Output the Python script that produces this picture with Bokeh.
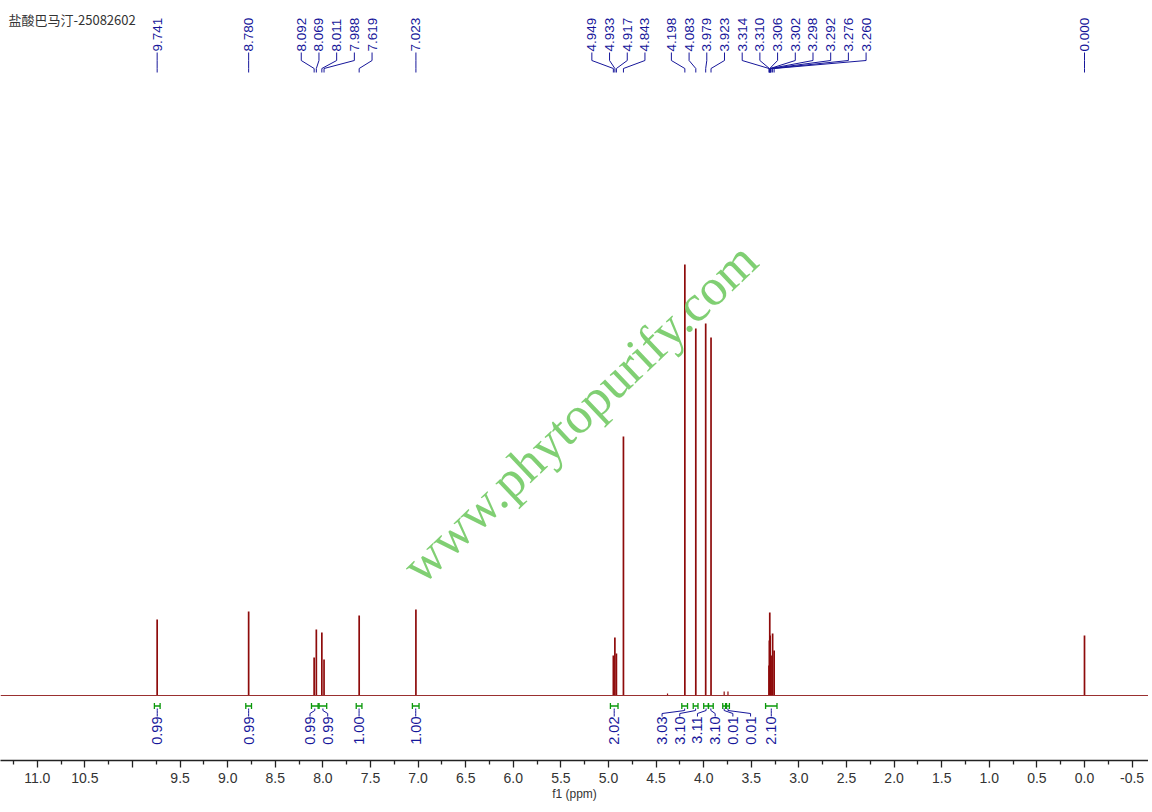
from math import pi
from bokeh.plotting import figure
from bokeh.models import Range1d, FixedTicker, Span, Label
from bokeh.core.properties import value
from bokeh.embed import file_html
from bokeh.resources import INLINE

title_text = "盐酸巴马汀-25082602"
watermark = "www.phytopurify.com"

# picked peaks: shift (ppm) and height above the baseline
peak_ppm = [9.741, 8.780, 8.092, 8.069, 8.011, 7.988, 7.619, 7.023,
            4.949, 4.933, 4.917, 4.843, 4.198, 4.083, 3.979, 3.923,
            3.314, 3.310, 3.306, 3.302, 3.298, 3.292, 3.276, 3.260, 0.000]
peak_height = [76, 84, 38, 66, 63, 36, 80, 86,
               40, 58, 42, 259, 431, 367, 372, 358,
               30, 55, 83, 60, 35, 40, 62, 45, 60]

# small unpicked bumps
bump_ppm = [4.38, 3.785, 3.745]
bump_height = [2, 4, 4]

# integration regions
integral_from = [9.77, 8.81, 8.12, 8.04, 7.65, 7.06, 4.98, 4.23, 4.11, 4.00, 3.95, 3.80, 3.76, 3.35]
integral_to = [9.71, 8.75, 8.05, 7.96, 7.59, 6.99, 4.90, 4.17, 4.06, 3.95, 3.90, 3.77, 3.73, 3.23]
integral_value = [0.99, 0.99, 0.99, 0.99, 1.00, 1.00, 2.02, 3.03, 3.10, 3.11, 3.10, 0.01, 0.01, 2.10]

x_ticks = [11.0, 10.5, 10.0, 9.5, 9.0, 8.5, 8.0, 7.5, 7.0, 6.5, 6.0, 5.5, 5.0,
           4.5, 4.0, 3.5, 3.0, 2.5, 2.0, 1.5, 1.0, 0.5, 0.0, -0.5]
unlabelled_ticks = [10.0]

SPEC = "#8e0b0b"
NAVY = "#16169a"
GREEN = "#0a980a"

W, H = 1148, 806
FRAME_H = 760
ppx = 95.2                      # pixels per ppm
X_LEFT = 1084 / ppx             # 0 ppm sits 1084 px from the left edge
X_RIGHT = X_LEFT - W / ppx
BASE = 695                      # baseline, pixels below the top of the frame


def ppm_at(sx):
    return X_LEFT - sx / ppx


def y_at(sy):
    return BASE - sy


def spread(anchors, gap, spacing):
    # group close anchors, centre each group, push groups apart left to right
    groups = []
    for a in anchors:
        if groups and groups[-1][-1] - a < gap:
            groups[-1].append(a)
        else:
            groups.append([a])
    out = []
    prev = None
    for g in groups:
        start = (g[0] + g[-1]) / 2 + spacing * (len(g) - 1) / 2
        if prev is not None and start > prev - spacing:
            start = prev - spacing
        pos = [start - i * spacing for i in range(len(g))]
        out += pos
        prev = pos[-1]
    return out


spacing = 17.7 / ppx

p = figure(width=W, height=H, x_range=Range1d(X_LEFT, X_RIGHT),
           y_range=Range1d(y_at(FRAME_H), y_at(0)),
           output_backend="svg", toolbar_location=None, y_axis_location=None,
           min_border_left=0, min_border_right=0, min_border_top=0, min_border_bottom=H - FRAME_H)
p.outline_line_color = None
p.grid.visible = False
p.background_fill_color = "white"

# spectrum
p.add_layout(Span(location=0, dimension="width", line_color="#9a3030", line_width=1.1))
p.segment(x0=bump_ppm, y0=[0] * len(bump_ppm), x1=bump_ppm, y1=bump_height,
          line_color=SPEC, line_width=1.2)
p.segment(x0=peak_ppm, y0=[0] * len(peak_ppm), x1=peak_ppm, y1=peak_height,
          line_color=SPEC, line_width=1.7)

# watermark
p.text(x=[ppm_at(579)], y=[y_at(412)], text=[watermark], angle=0.76,
       text_font=value("Liberation Serif"), text_font_size="52px", text_color="#79cc6c",
       text_align="center", text_baseline="middle", text_alpha=0.95)

# peak labels
lab_x = spread(peak_ppm, 0.45, spacing)
p.multi_line(xs=[[lx, lx, px, px] for lx, px in zip(lab_x, peak_ppm)],
             ys=[[y_at(52), y_at(60), y_at(68), y_at(72)]] * len(peak_ppm),
             line_color=NAVY, line_width=1)
p.text(x=lab_x, y=[y_at(51)] * len(peak_ppm), text=[f"{v:.3f}" for v in peak_ppm],
       angle=pi / 2, text_align="left", text_baseline="middle",
       text_font=value("Liberation Sans"), text_font_size="13.5px", text_color=NAVY)

# integrals
mid = [(a + b) / 2 for a, b in zip(integral_from, integral_to)]
ilab_x = spread(mid, 0.35, spacing)
p.segment(x0=integral_from, y0=[y_at(705.5)] * len(mid), x1=integral_to, y1=[y_at(705.5)] * len(mid),
          line_color=GREEN, line_width=1.3)
for ends in (integral_from, integral_to):
    p.segment(x0=ends, y0=[y_at(702.5)] * len(mid), x1=ends, y1=[y_at(708.5)] * len(mid),
              line_color=GREEN, line_width=1.3)
p.multi_line(xs=[[m, m, lx, lx] for lx, m in zip(ilab_x, mid)],
             ys=[[y_at(708), y_at(710), y_at(713), y_at(716)]] * len(mid),
             line_color=NAVY, line_width=1)
p.text(x=ilab_x, y=[y_at(716)] * len(mid), text=[f"{v:.2f}" for v in integral_value],
       angle=pi / 2, text_align="right", text_baseline="middle",
       text_font=value("Liberation Sans"), text_font_size="14.5px", text_color=NAVY)

# sample name
p.add_layout(Label(x=ppm_at(8), y=y_at(19), text=title_text, text_font="Noto Sans CJK SC",
                   text_font_size="13px", text_color="#333333", text_baseline="middle"))

# axis
ax = p.xaxis[0]
ax.ticker = FixedTicker(ticks=x_ticks, minor_ticks=[t + 0.25 for t in x_ticks] + [-0.75])
ax.major_label_overrides = {t: ("" if t in unlabelled_ticks else f"{t:.1f}") for t in x_ticks}
ax.axis_label = "f1 (ppm)"
ax.axis_label_text_font = "Liberation Sans"
ax.axis_label_text_font_size = "12px"
ax.axis_label_text_font_style = "normal"
ax.axis_label_text_color = "#333333"
ax.axis_label_standoff = 1
ax.major_label_text_font = "Liberation Sans"
ax.major_label_text_font_size = "14px"
ax.major_label_text_color = "#333333"
ax.major_label_standoff = 5
ax.axis_line_color = "#222222"
ax.axis_line_width = 1.5
ax.major_tick_line_color = "#222222"
ax.major_tick_line_width = 1.3
ax.minor_tick_line_color = "#222222"
ax.minor_tick_line_width = 1.3
ax.major_tick_in = 0
ax.major_tick_out = 7
ax.minor_tick_in = 0
ax.minor_tick_out = 4

open("out.html", "w").write(file_html(p, INLINE))
